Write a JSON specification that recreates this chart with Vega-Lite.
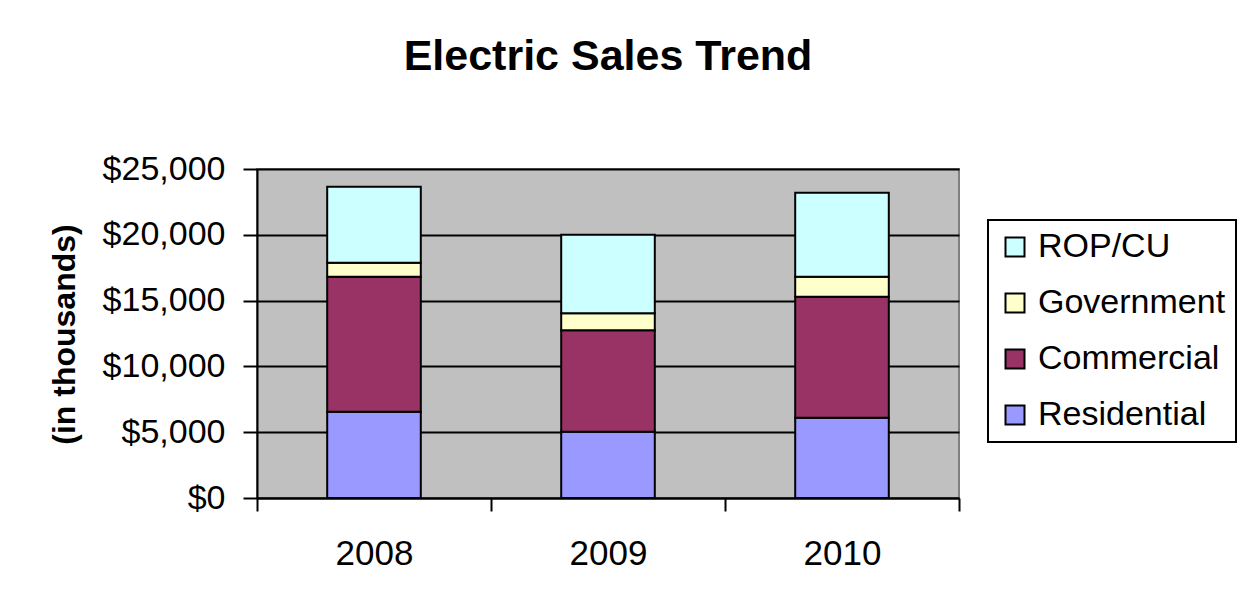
{
  "$schema": "https://vega.github.io/schema/vega-lite/v6.json",
  "width": 702,
  "height": 329,
  "autosize": {"type": "none"},
  "padding": {"left": 257, "top": 169, "right": 288, "bottom": 111},
  "background": "white",
  "title": {
    "text": "Electric Sales Trend",
    "font": "Liberation Sans",
    "fontSize": 43,
    "fontWeight": "bold",
    "color": "black",
    "anchor": "middle",
    "offset": 73
  },
  "data": {
    "values": [
      {"year": "2008", "category": "Residential", "order": 1, "sales": 6560},
      {"year": "2008", "category": "Commercial", "order": 2, "sales": 10260},
      {"year": "2008", "category": "Government", "order": 3, "sales": 1060},
      {"year": "2008", "category": "ROP/CU", "order": 4, "sales": 5780},
      {"year": "2009", "category": "Residential", "order": 1, "sales": 5040},
      {"year": "2009", "category": "Commercial", "order": 2, "sales": 7700},
      {"year": "2009", "category": "Government", "order": 3, "sales": 1290},
      {"year": "2009", "category": "ROP/CU", "order": 4, "sales": 5970},
      {"year": "2010", "category": "Residential", "order": 1, "sales": 6100},
      {"year": "2010", "category": "Commercial", "order": 2, "sales": 9200},
      {"year": "2010", "category": "Government", "order": 3, "sales": 1520},
      {"year": "2010", "category": "ROP/CU", "order": 4, "sales": 6380}
    ]
  },
  "mark": {"type": "bar", "stroke": "black", "strokeWidth": 2, "width": {"band": 0.4}},
  "encoding": {
    "x": {
      "field": "year",
      "type": "nominal",
      "scale": {"paddingInner": 0, "paddingOuter": 0},
      "axis": {
        "title": null,
        "labelAngle": 0,
        "labelFont": "Liberation Sans",
        "labelFontSize": 35,
        "labelColor": "black",
        "labelPadding": 25,
        "tickBand": "extent",
        "tickSize": 13,
        "tickColor": "black",
        "tickWidth": 2,
        "domainColor": "black",
        "domainWidth": 2,
        "grid": false
      }
    },
    "y": {
      "field": "sales",
      "type": "quantitative",
      "stack": "zero",
      "scale": {"domain": [0, 25000], "nice": false},
      "axis": {
        "title": "(in thousands)",
        "titleFont": "Liberation Sans",
        "titleFontSize": 32,
        "titleFontWeight": "bold",
        "titleColor": "black",
        "titleX": -176,
        "titleY": 165,
        "values": [0, 5000, 10000, 15000, 20000, 25000],
        "format": "$,.0f",
        "labelFont": "Liberation Sans",
        "labelFontSize": 34,
        "labelColor": "black",
        "labelPadding": 18,
        "tickSize": 14,
        "tickColor": "black",
        "tickWidth": 2,
        "domainColor": "black",
        "domainWidth": 2,
        "grid": true,
        "gridColor": "black",
        "gridWidth": 2,
        "gridOpacity": 1
      }
    },
    "color": {
      "field": "category",
      "type": "nominal",
      "scale": {
        "domain": ["ROP/CU", "Government", "Commercial", "Residential"],
        "range": ["#CCFFFF", "#FFFFCC", "#993366", "#9999FF"]
      },
      "legend": {
        "title": null,
        "orient": "none",
        "legendX": 731,
        "legendY": 51,
        "strokeColor": "black",
        "fillColor": "white",
        "padding": 10,
        "symbolType": "square",
        "symbolSize": 361,
        "symbolStrokeColor": "black",
        "symbolStrokeWidth": 2,
        "symbolOpacity": 1,
        "labelFont": "Liberation Sans",
        "labelFontSize": 34,
        "labelColor": "black",
        "labelOffset": 6,
        "rowPadding": 22,
        "labelLimit": 400
      }
    },
    "order": {"field": "order", "type": "quantitative"}
  },
  "config": {
    "view": {"fill": "#C0C0C0", "stroke": "#808080", "strokeWidth": 2},
    "legend": {"strokeWidth": 2}
  }
}
